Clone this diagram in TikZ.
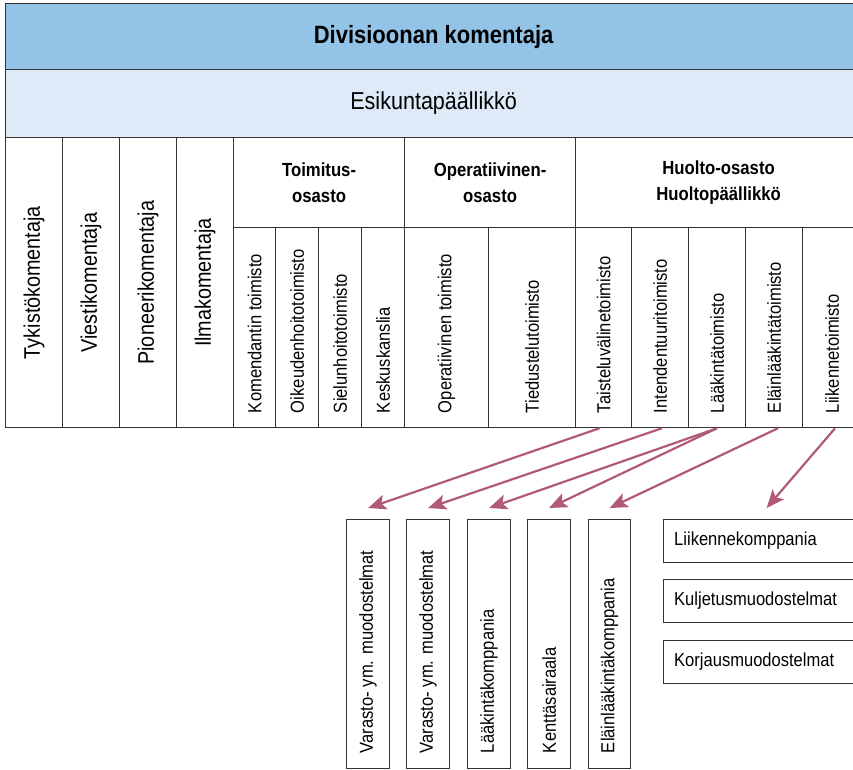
\documentclass[tikz,border=0pt]{standalone}
\usepackage{fontspec}
\setmainfont{Liberation Sans}[FakeStretch=0.88]
\usetikzlibrary{arrows.meta}

\definecolor{divblue}{RGB}{148,195,232}
\definecolor{eskblue}{RGB}{222,234,247}
\definecolor{linkred}{RGB}{176,90,118}

\tikzset{
  cell/.style={draw=black!80, line width=1.2pt, inner sep=0pt, anchor=north west},
  bigtext/.style={rotate=90, inner sep=0pt, font=\fontsize{22.5}{26}\selectfont},
  smalltext/.style={rotate=90, anchor=west, inner sep=0pt, font=\fontsize{18.8}{22}\selectfont},
  boxtext/.style={anchor=west, inner sep=0pt, font=\fontsize{18.8}{22}\selectfont},
  headtext/.style={align=center, font=\bfseries\fontsize{19}{26}\selectfont},
  link/.style={-{Stealth[length=18pt,width=15pt,inset=4pt]}, line width=2.2pt, color=linkred}
}

\begin{document}
\begin{tikzpicture}[x=1pt,y=1pt]
  \useasboundingbox (0,0) rectangle (853,-769);

  % top rows
  \node[cell, fill=divblue, minimum width=856pt, minimum height=66pt,
        font=\bfseries\fontsize{25}{30}\selectfont] (div) at (5,-3) {Divisioonan komentaja};
  \node[cell, fill=eskblue, minimum width=856pt, minimum height=68pt,
        font=\fontsize{24.5}{30}\selectfont] (esk) at (5,-69) {Esikuntapäällikkö};

  % commanders
  \node[cell, minimum width=57pt, minimum height=290pt] (tyk) at (5,-137) {};
  \node[cell, minimum width=57pt, minimum height=290pt] (vie) at (62,-137) {};
  \node[cell, minimum width=57pt, minimum height=290pt] (pio) at (119,-137) {};
  \node[cell, minimum width=57pt, minimum height=290pt] (ilm) at (176,-137) {};
  \node[bigtext] (tyktext) at (tyk.center) {Tykistökomentaja};
  \node[bigtext] (vietext) at (vie.center) {Viestikomentaja};
  \node[bigtext] (piotext) at (pio.center) {Pioneerikomentaja};
  \node[bigtext] (ilmtext) at (ilm.center) {Ilmakomentaja};

  % departments
  \node[cell, headtext, minimum width=171pt, minimum height=90pt] (toi) at (233,-137) {Toimitus-\\osasto};
  \node[cell, headtext, minimum width=171pt, minimum height=90pt] (ope) at (404,-137) {Operatiivinen-\\osasto};
  \node[cell, headtext, minimum width=286pt, minimum height=90pt] (huo) at (575,-137) {Huolto-osasto\\Huoltopäällikkö};

  % offices
  \node[cell, minimum width=42pt, minimum height=200pt] (kom) at (233,-227) {};
  \node[cell, minimum width=43pt, minimum height=200pt] (oik) at (275,-227) {};
  \node[cell, minimum width=43pt, minimum height=200pt] (sie) at (318,-227) {};
  \node[cell, minimum width=43pt, minimum height=200pt] (kes) at (361,-227) {};
  \node[cell, minimum width=84pt, minimum height=200pt] (opt) at (404,-227) {};
  \node[cell, minimum width=87pt, minimum height=200pt] (tie) at (488,-227) {};
  \node[cell, minimum width=56pt, minimum height=200pt] (tai) at (575,-227) {};
  \node[cell, minimum width=57pt, minimum height=200pt] (int) at (631,-227) {};
  \node[cell, minimum width=57pt, minimum height=200pt] (laa) at (688,-227) {};
  \node[cell, minimum width=57pt, minimum height=200pt] (ela) at (745,-227) {};
  \node[cell, minimum width=59pt, minimum height=200pt] (lii) at (802,-227) {};
  \node[smalltext] (komtext) at ([yshift=15pt]kom.south) {Komendantin toimisto};
  \node[smalltext] (oiktext) at ([yshift=15pt]oik.south) {Oikeudenhoitotoimisto};
  \node[smalltext] (sietext) at ([yshift=15pt]sie.south) {Sielunhoitotoimisto};
  \node[smalltext] (kestext) at ([yshift=15pt]kes.south) {Keskuskanslia};
  \node[smalltext] (opttext) at ([yshift=15pt]opt.south) {Operatiivinen toimisto};
  \node[smalltext] (tietext) at ([yshift=15pt]tie.south) {Tiedustelutoimisto};
  \node[smalltext] (taitext) at ([yshift=15pt]tai.south) {Taisteluvälinetoimisto};
  \node[smalltext] (inttext) at ([yshift=15pt]int.south) {Intendentuuritoimisto};
  \node[smalltext] (laatext) at ([yshift=15pt]laa.south) {Lääkintätoimisto};
  \node[smalltext] (elatext) at ([yshift=15pt]ela.south) {Eläinlääkintätoimisto};
  \node[smalltext] (liitext) at ([yshift=15pt]lii.south) {Liikennetoimisto};

  % units
  \node[cell, minimum width=43pt, minimum height=249pt] (var1) at (346,-519) {};
  \node[cell, minimum width=43pt, minimum height=249pt] (var2) at (406,-519) {};
  \node[cell, minimum width=43pt, minimum height=249pt] (lkk) at (467,-519) {};
  \node[cell, minimum width=43pt, minimum height=249pt] (ksa) at (527,-519) {};
  \node[cell, minimum width=42pt, minimum height=249pt] (elk) at (588,-519) {};
  \node[smalltext] (var1text) at ([yshift=16pt]var1.south) {Varasto- ym. muodostelmat};
  \node[smalltext] (var2text) at ([yshift=16pt]var2.south) {Varasto- ym. muodostelmat};
  \node[smalltext] (lkktext) at ([yshift=16pt]lkk.south) {Lääkintäkomppania};
  \node[smalltext] (ksatext) at ([yshift=16pt]ksa.south) {Kenttäsairaala};
  \node[smalltext] (elktext) at ([yshift=16pt]elk.south) {Eläinlääkintäkomppania};

  \node[cell, minimum width=198pt, minimum height=43pt] (lik) at (663,-519) {};
  \node[cell, minimum width=198pt, minimum height=43pt] (kul) at (663,-579) {};
  \node[cell, minimum width=198pt, minimum height=43pt] (kor) at (663,-640) {};
  \node[boxtext] (liktext) at ([xshift=11pt]lik.west) {Liikennekomppania};
  \node[boxtext] (kultext) at ([xshift=11pt]kul.west) {Kuljetusmuodostelmat};
  \node[boxtext] (kortext) at ([xshift=11pt]kor.west) {Korjausmuodostelmat};

  \path[link]
    ([xshift=-4pt]tai.south) edge ([yshift=11pt]var1.north)
    ([xshift=2pt]int.south) edge ([yshift=11pt]var2.north)
    (laa.south) edge ([yshift=11pt]lkk.north)
                edge ([yshift=11pt]ksa.north)
    ([xshift=4pt]ela.south) edge ([yshift=11pt]elk.north)
    ([xshift=3pt]lii.south) edge ([xshift=4pt,yshift=11pt]lik.north);
\end{tikzpicture}
\end{document}
